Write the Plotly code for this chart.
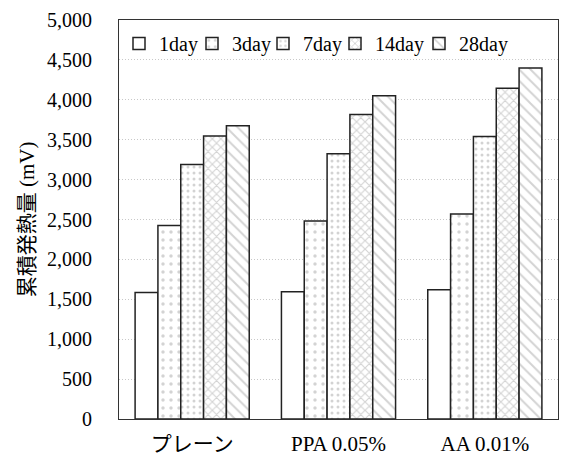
import plotly.graph_objects as go

categories = ["プレーン", "PPA 0.05%", "AA 0.01%"]
series_names = ["1day", "3day", "7day", "14day", "28day"]
values_1day = [1585, 1595, 1620]
values_3day = [2425, 2480, 2570]
values_7day = [3190, 3325, 3540]
values_14day = [3545, 3815, 4145]
values_28day = [3675, 4050, 4400]
y_ticks = [0, 500, 1000, 1500, 2000, 2500, 3000, 3500, 4000, 4500, 5000]

all_values = [values_1day, values_3day, values_7day, values_14day, values_28day]
patterns = ["", ".", ".", "x", "\\"]
pat_sizes = [8, 8, 6, 6, 8]
pat_solid = [0.2, 0.15, 0.2, 0.35, 0.25]
legend_widths = [28, 26, 27, 39, 50]

FONT = "Liberation Serif, Noto Sans CJK JP"
FS = 20
BLACK = "black"

fig = go.Figure()
for name, vals, p, ps, sol, lw in zip(series_names, all_values, patterns, pat_sizes, pat_solid, legend_widths):
    fig.add_trace(go.Bar(
        x=categories, y=vals, name=name, legendwidth=lw,
        marker=dict(
            color="white",
            line=dict(color="#222222", width=1.5),
            pattern=dict(shape=p, fgcolor="#a8a8a8", bgcolor="white",
                         size=ps, solidity=sol, fillmode="overlay"),
        ),
    ))

fig.update_layout(
    template="simple_white",
    width=562, height=459,
    margin=dict(l=119, r=4, t=20, b=40),
    paper_bgcolor="white", plot_bgcolor="white",
    barmode="group", bargap=0.22, bargroupgap=0,
    font=dict(family=FONT, size=FS, color=BLACK),
    legend=dict(orientation="h", x=0.0, y=0.99, xanchor="left", yanchor="top",
                bgcolor="rgba(0,0,0,0)",
                font=dict(family=FONT, size=FS, color=BLACK),
                tracegroupgap=0),
    xaxis=dict(showline=True, linecolor="#333333", linewidth=1.2, mirror=True,
               ticks="", ticklabelstandoff=6,
               tickfont=dict(family=FONT, size=21, color=BLACK)),
    yaxis=dict(range=[0, 5000], tickvals=y_ticks, tickformat=",d",
               showline=True, linecolor="#333333", linewidth=1.2, mirror=True,
               showgrid=True, gridcolor="#c8c8c8", griddash="1px,2px", gridwidth=1,
               ticks="", ticklabelstandoff=22,
               tickfont=dict(family=FONT, size=FS, color=BLACK),
               title=dict(text="累積発熱量 (mV)",
                          font=dict(family=FONT, size=21, color=BLACK), standoff=6)),
)

fig.write_html("out.html")
